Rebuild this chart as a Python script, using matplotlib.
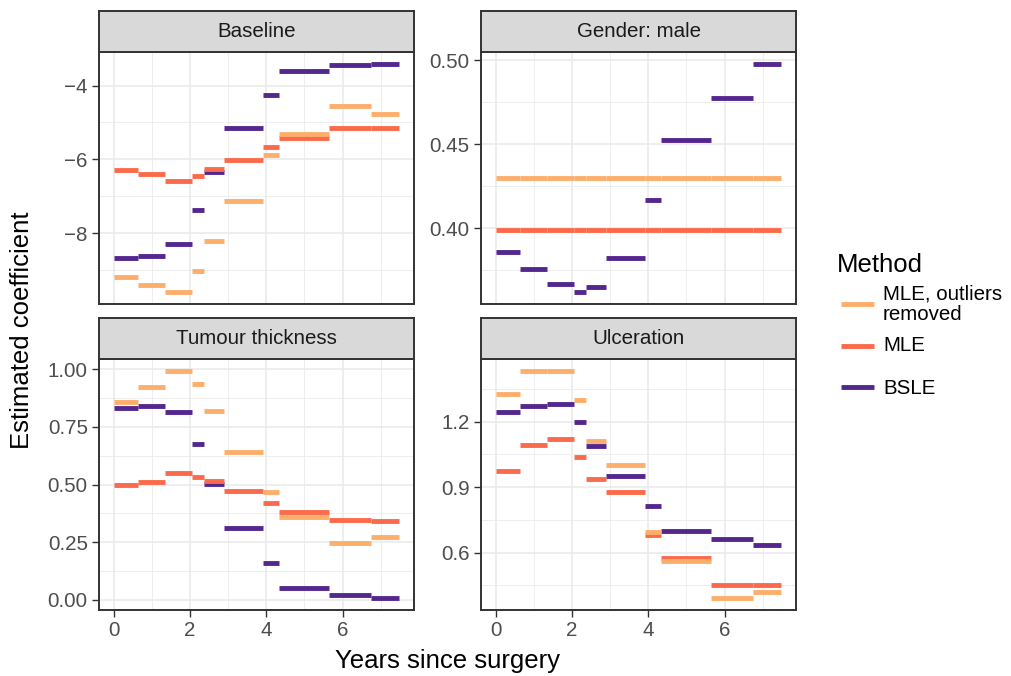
import matplotlib
matplotlib.use("Agg")
import matplotlib.pyplot as plt
from matplotlib.ticker import MultipleLocator, FuncFormatter
from matplotlib.lines import Line2D

plt.rcParams['font.family'] = ['Liberation Sans', 'DejaVu Sans']

# ---------------- data ----------------
breaks = [0.0, 0.63, 1.35, 2.06, 2.38, 2.90, 3.91, 4.33, 5.64, 6.75, 7.49]

methods = ["MLE, outliers\nremoved", "MLE", "BSLE"]
method_colors = ["#FDAE6B", "#FB6A4A", "#54278F"]

panels = ["Baseline", "Gender: male", "Tumour thickness", "Ulceration"]

baseline_mle_out = [-9.18, -9.41, -9.60, -9.03, -8.20, -7.13, -5.88, -5.30, -4.56, -4.78]
baseline_mle = [-6.28, -6.40, -6.58, -6.45, -6.27, -6.03, -5.67, -5.43, -5.16, -5.16]
baseline_bsle = [-8.68, -8.62, -8.30, -7.38, -6.33, -5.14, -4.25, -3.61, -3.45, -3.41]

gender_mle_out = [0.430] * 10
gender_mle = [0.399] * 10
gender_bsle = [0.3857, 0.3756, 0.3667, 0.3619, 0.3651, 0.3821, 0.4169, 0.4524, 0.4772, 0.4978]

thick_mle_out = [0.856, 0.922, 0.994, 0.938, 0.818, 0.641, 0.468, 0.361, 0.245, 0.271]
thick_mle = [0.498, 0.512, 0.548, 0.534, 0.514, 0.473, 0.421, 0.382, 0.345, 0.342]
thick_bsle = [0.833, 0.841, 0.814, 0.675, 0.502, 0.310, 0.161, 0.052, 0.022, 0.006]

ulcer_mle_out = [1.328, 1.431, 1.433, 1.300, 1.112, 0.999, 0.694, 0.560, 0.391, 0.419]
ulcer_mle = [0.972, 1.093, 1.122, 1.040, 0.937, 0.877, 0.679, 0.574, 0.452, 0.451]
ulcer_bsle = [1.244, 1.273, 1.279, 1.200, 1.087, 0.949, 0.812, 0.699, 0.661, 0.637]

panel_data = [
    [baseline_mle_out, baseline_mle, baseline_bsle],
    [gender_mle_out, gender_mle, gender_bsle],
    [thick_mle_out, thick_mle, thick_bsle],
    [ulcer_mle_out, ulcer_mle, ulcer_bsle],
]

y_major = [2.0, 0.05, 0.25, 0.3]
y_minor = [1.0, 0.025, 0.125, 0.15]
y_fmt = ["{:.0f}", "{:.2f}", "{:.2f}", "{:.1f}"]

# ---------------- layout (pixels) ----------------
W, H = 1011, 676
fig = plt.figure(figsize=(W / 100, H / 100), dpi=100)

def rect(l, t, r, b):
    return [l / W, 1 - b / H, (r - l) / W, (b - t) / H]

cols = [(99.3, 413.7), (481.3, 795.7)]
rows = [(11.3, 52.3, 303.7), (317.7, 359.3, 609.7)]

grey20 = "#333333"
border_lw = 1.4
seg_lw = 3.5

def minus_fmt(fmt):
    return FuncFormatter(lambda v, p: fmt.format(v).replace("-", "\u2212"))

xlo, xhi = breaks[0], breaks[-1]
xpad = 0.05 * (xhi - xlo)

for i, name in enumerate(panels):
    r, c = divmod(i, 2)
    l, rr = cols[c]
    st, pt, pb = rows[r]
    ax = fig.add_axes(rect(l, pt, rr, pb))
    vals_all = [v for s in panel_data[i] for v in s]
    lo, hi = min(vals_all), max(vals_all)
    pad = 0.05 * (hi - lo)
    ax.set_ylim(lo - pad, hi + pad)
    ax.set_xlim(xlo - xpad, xhi + xpad)

    # draw order: BSLE, MLE, MLE outliers removed
    for m in [2, 1, 0]:
        lc = ax.hlines(panel_data[i][m], breaks[:-1], breaks[1:],
                       colors=method_colors[m], linewidth=seg_lw, zorder=3)
        lc.set_capstyle("butt")

    ax.xaxis.set_major_locator(MultipleLocator(2))
    ax.xaxis.set_minor_locator(MultipleLocator(1))
    ax.yaxis.set_major_locator(MultipleLocator(y_major[i]))
    ax.yaxis.set_minor_locator(MultipleLocator(y_minor[i]))
    ax.yaxis.set_major_formatter(minus_fmt(y_fmt[i]))
    ax.xaxis.set_major_formatter(FuncFormatter(lambda v, p: "{:.0f}".format(v)))
    ax.set_axisbelow(True)
    ax.grid(which="major", color="#EBEBEB", linewidth=1.2, zorder=0)
    ax.grid(which="minor", color="#EBEBEB", linewidth=0.6, zorder=0)
    ax.tick_params(which="minor", length=0)
    ax.tick_params(which="major", length=4.75, width=1.0, color=grey20,
                   labelsize=14.8, labelcolor="#4D4D4D", pad=3.5)
    if r == 0:
        ax.tick_params(axis="x", which="both", length=0, labelbottom=False)
    for sp in ax.spines.values():
        sp.set_color(grey20)
        sp.set_linewidth(border_lw)
        sp.set_zorder(5)

    # strip
    sax = fig.add_axes(rect(l, st, rr, pt))
    sax.set_facecolor("#D9D9D9")
    sax.set_xticks([])
    sax.set_yticks([])
    for sp in sax.spines.values():
        sp.set_color(grey20)
        sp.set_linewidth(border_lw)
    sax.text(0.5, 0.5, name, ha="center", va="center", fontsize=14.8,
             color="#1A1A1A", transform=sax.transAxes)

# axis titles
fig.text(447.5 / W, 1 - 661 / H, "Years since surgery", ha="center", va="center",
         fontsize=18.5, color="black")
fig.text(22 / W, 1 - 330 / H, "Estimated coefficient", ha="center", va="center",
         rotation=90, fontsize=18.5, color="black")

# legend (manual)
fig.text(837 / W, 1 - 265 / H, "Method", ha="left", va="center", fontsize=18.5,
         color="black")
key_y = [304.3, 346, 387]
txt_y = [304.5, 346, 388]
for m in range(3):
    fig.add_artist(Line2D([841 / W, 874 / W], [1 - key_y[m] / H, 1 - key_y[m] / H],
                          color=method_colors[m], linewidth=seg_lw,
                          solid_capstyle="butt", transform=fig.transFigure))
    fig.text(883 / W, 1 - txt_y[m] / H, methods[m], ha="left", va="center",
             fontsize=14.8, color="black", linespacing=1.12)

fig.savefig("out.png", dpi=100, facecolor="white")
